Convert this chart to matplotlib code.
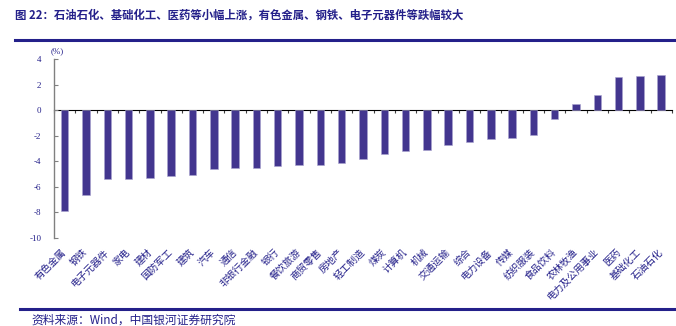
import numpy as np
import matplotlib.pyplot as plt

plt.rcParams['font.family'] = ['Noto Sans CJK SC', 'DejaVu Sans']

industries = ['有色金属', '钢铁', '电子元器件', '家电', '建材', '国防军工', '建筑', '汽车',
              '通信', '非银行金融', '银行', '餐饮旅游', '商贸零售', '房地产', '轻工制造',
              '煤炭', '计算机', '机械', '交通运输', '综合', '电力设备', '传媒', '纺织服装',
              '食品饮料', '农林牧渔', '电力及公用事业', '医药', '基础化工', '石油石化']
change = [-7.90, -6.67, -5.41, -5.42, -5.33, -5.15, -5.05, -4.58, -4.53, -4.50,
          -4.34, -4.29, -4.28, -4.16, -3.85, -3.45, -3.17, -3.09, -2.70, -2.49,
          -2.28, -2.20, -1.91, -0.71, 0.49, 1.18, 2.61, 2.71, 2.76]
yticks = [4, 2, 0, -2, -4, -6, -8, -10]

navy = '#24208a'
barcol = '#43368f'
grey = '#808080'

fig = plt.figure(figsize=(6.76, 3.26), dpi=100)
ax = fig.add_axes([0.0799, 0.2706, 0.914, 0.5474])

x = np.arange(len(industries))
ax.bar(x, change, width=0.35, color=barcol, edgecolor='#a9a3d0', linewidth=0.4, zorder=3)
ax.set_xlim(-0.5, len(industries) - 0.5)
ax.set_ylim(-10, 4)
ax.set_yticks(yticks)
ax.set_yticklabels([str(v) for v in yticks], fontsize=6.5, color=navy, family='Liberation Serif')

ax.set_xticks(x)
ax.set_xticklabels(industries, rotation=45, ha='right', va='center', rotation_mode='anchor',
                   fontsize=7, color=navy)
ax.tick_params(axis='x', length=0, pad=9)
ax.tick_params(axis='y', direction='in', length=3, width=0.8, color=grey, pad=9)

for s in ['top', 'right', 'bottom']:
    ax.spines[s].set_visible(False)
ax.spines['left'].set_color(grey)
ax.spines['left'].set_linewidth(1.0)

# zero line with category boundary ticks
zero = ax.secondary_xaxis(10 / 14)
zero.set_xticks(np.arange(len(industries) + 1) - 0.5)
zero.set_xticklabels([])
zero.tick_params(direction='in', length=2.5, width=0.8, color='#404040')
zero.spines['bottom'].set_color(grey)
zero.spines['bottom'].set_linewidth(1.0)

ax.text(0.005, 1.025, '(%)', transform=ax.transAxes, fontsize=6.5, color=navy,
        ha='center', va='bottom', family='Liberation Serif')

fig.text(0.022, 0.952, '图 22：石油石化、基础化工、医药等小幅上涨，有色金属、钢铁、电子元器件等跌幅较大',
         fontsize=8.2, fontweight='bold', color=navy, ha='left', va='center')
fig.add_artist(plt.Line2D([0.022, 1.0], [0.877, 0.877], color=navy, linewidth=2.2))
fig.add_artist(plt.Line2D([0.03, 1.0], [0.052, 0.052], color=navy, linewidth=2.2))
fig.text(0.046, 0.019, '资料来源：Wind，中国银河证券研究院', fontsize=8.5, style='italic',
         color=navy, ha='left', va='center')

fig.savefig('out.png', dpi=100)
